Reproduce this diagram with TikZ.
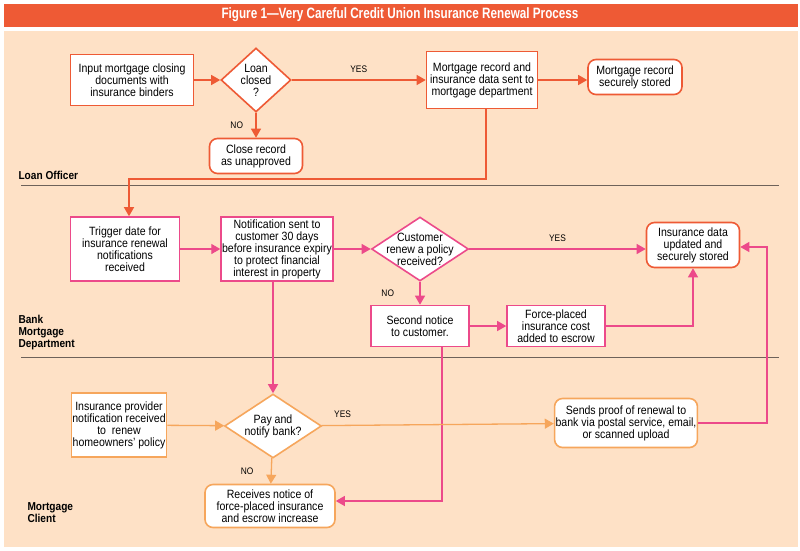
\documentclass[tikz,border=0pt]{standalone}
\usepackage{fontspec}
\setmainfont[FakeStretch=0.88]{Liberation Sans}
\newfontfamily\headfont[FakeStretch=0.78,Ligatures=TeX]{Liberation Sans}
\usetikzlibrary{shapes.geometric,arrows.meta}
\definecolor{offred}{HTML}{EE5A35}
\definecolor{offpink}{HTML}{EC4A8A}
\definecolor{offamber}{HTML}{F6A65C}
\definecolor{peach}{HTML}{FEE1C6}
\definecolor{laneline}{HTML}{6E625A}
\begin{document}
\begin{tikzpicture}[x=1pt,y=-1pt,
	txt/.style={font=\fontsize{12}{12}\selectfont,align=center},
	box/.style={txt,draw=#1,fill=white,line width=1.6pt,inner sep=1pt},
	rbox/.style={box=#1,rounded corners=8pt},
	dia/.style={draw=#1,fill=white,line width=1.6pt,diamond,inner sep=0pt},
	link/.style={line width=1.3pt,-{Triangle[length=9pt,width=10pt]}},
	flag/.style={font=\fontsize{9.5}{10}\selectfont},
	lanename/.style={font=\bfseries\fontsize{11.5}{12}\selectfont,align=left,anchor=west}]
				\useasboundingbox (0,0) rectangle (800,550);
				\fill[offred] (4,4) rectangle (798,27);
				\fill[peach] (4,31) rectangle (798,547);
				\node[text=white,font=\headfont\bfseries\fontsize{15}{16}\selectfont] (title) at (400,15) {Figure 1—Very Careful Credit Union Insurance Renewal Process};
				\draw[laneline,line width=1pt] (21,185) -- (779,185);
				\draw[laneline,line width=1pt] (21,357) -- (779,357);
				\node[lanename] (lo) at (15,175) {Loan Officer};
				\node[lanename] (bmd) at (15,333) {Bank\\Mortgage\\Department};
				\node[lanename] (mc) at (24,513) {Mortgage\\Client};
				\node[box=offred,minimum width=123pt,minimum height=51pt] (input) at (132,80) {Input mortgage closing\\documents with\\insurance binders};
				\node[dia=offred,minimum width=70pt,minimum height=64pt,label={[txt]center:Loan\\closed\\?}] (loan) at (256,80) {};
				\node[rbox=offred,minimum width=93pt,minimum height=35pt] (close) at (256,156) {Close record\\as unapproved};
				\node[box=offred,minimum width=111pt,minimum height=57pt] (mrec) at (482,80) {Mortgage record and\\insurance data sent to\\mortgage department};
				\node[rbox=offred,minimum width=94pt,minimum height=35pt] (stored) at (635,77) {Mortgage record\\securely stored};
				\node[box=offpink,minimum width=109pt,minimum height=64pt] (trigger) at (125,249) {Trigger date for\\insurance renewal\\notifications\\received};
				\node[box=offpink,minimum width=109pt,minimum height=64pt] (notif) at (277,249) {Notification sent to\\customer 30 days\\before insurance expiry\\to protect financial\\interest in property};
				\node[dia=offpink,minimum width=97pt,minimum height=64pt,label={[txt]center:Customer\\renew a policy\\received?}] (cust) at (420,249) {};
				\node[rbox=offred,minimum width=93pt,minimum height=45pt] (insdata) at (693,245) {Insurance data\\updated and\\securely stored};
				\node[box=offpink,minimum width=98pt,minimum height=41pt] (second) at (420,326) {Second notice\\to customer.};
				\node[box=offpink,minimum width=98pt,minimum height=41pt] (force) at (556,326) {Force-placed\\insurance cost\\added to escrow};
				\node[box=offamber,minimum width=94pt,minimum height=64pt] (provider) at (119,425) {Insurance provider\\notification received\\to\ \ renew\\homeowners' policy};
				\node[dia=offamber,minimum width=97pt,minimum height=64pt,label={[txt]center:Pay and\\notify bank?}] (pay) at (273,426) {};
				\node[rbox=offamber,minimum width=130pt,minimum height=43pt] (receives) at (270,506) {Receives notice of\\force-placed insurance\\and escrow increase};
				\node[rbox=offamber,minimum width=139pt,minimum height=49pt] (sends) at (626,423) {Sends proof of renewal to\\bank via postal service, email,\\or scanned upload};
				\coordinate (b1) at (486,179);
				\coordinate (b2) at (129,179);
				\coordinate (b3) at (442,501);
				\coordinate (b4) at (767,247);
				\draw[link,offred] (input) -- (loan);
				\draw[link,offred] (loan) -- node[flag,text=black,above=3pt] {YES} (mrec);
				\draw[link,offred] (loan) -- node[flag,text=black,left=9pt] {NO} (close);
				\draw[link,offred] (mrec.east) -- (mrec.east -| stored.west);
				\draw[link,offred] (mrec.south -| b1) -- (b1) -- (b2) -- (trigger.north -| b2);
				\draw[link,offpink] (trigger) -- (notif);
				\draw[link,offpink] (notif) -- (cust);
				\draw[link,offpink] (cust.east) -- node[flag,text=black,above=3pt] {YES} (cust.east -| insdata.west);
				\draw[link,offpink] (cust) -- node[flag,text=black,left=22pt] {NO} (second);
				\draw[link,offpink] (second) -- (force);
				\draw[link,offpink] (force) -| (insdata);
				\draw[link,offpink] (notif.south -| pay.north) -- (pay.north);
				\draw[link,offpink] (second.south -| b3) -- (b3) -- (b3 -| receives.east);
				\draw[link,offpink] (sends.east) -| (b4) -- (b4 -| insdata.east);
				\draw[link,offamber] (provider) -- (pay);
				\draw[link,offamber] (pay) -- node[flag,text=black,pos=0.09,above=4pt] {YES} (sends);
				\draw[link,offamber] (pay) -- node[flag,text=black,left=14pt] {NO} (receives);
			\end{tikzpicture}
\end{document}
